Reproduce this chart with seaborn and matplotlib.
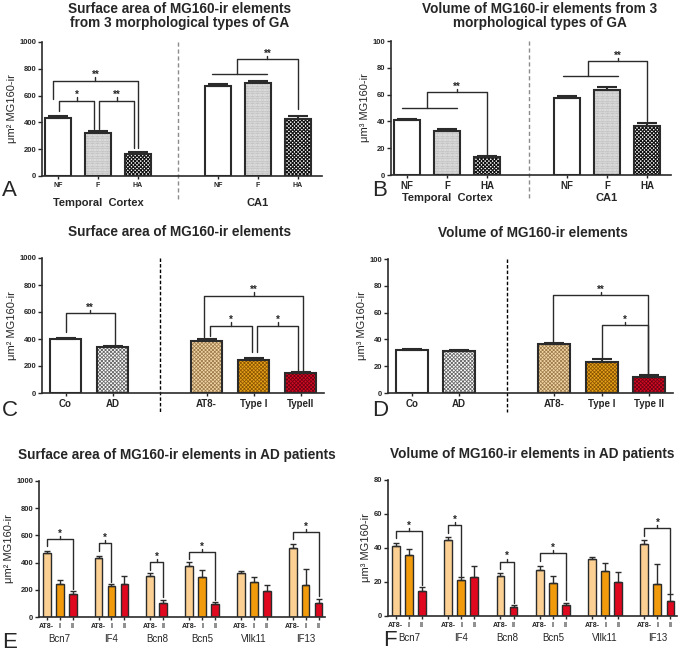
import numpy as np
import matplotlib
matplotlib.use("Agg")
import matplotlib.pyplot as plt
import seaborn as sns
from matplotlib.patches import Rectangle

# values
morph_types = ["NF", "F", "HA"]
area_tc = [435, 323, 164]
area_tc_err = [13, 15, 13]
area_ca1 = [672, 697, 425]
area_ca1_err = [15, 14, 23]
vol_tc = [41.0, 33.0, 13.2]
vol_tc_err = [1.0, 1.2, 1.0]
vol_ca1 = [57.6, 63.8, 36.5]
vol_ca1_err = [1.5, 1.5, 2.5]

cohorts = ["Co", "AD"]
tangles_c = ["AT8-", "Type I", "TypeII"]
tangles_d = ["AT8-", "Type I", "Type II"]
area_cohort = [397, 340]
area_cohort_err = [9, 8]
area_tangle = [388, 247, 146]
area_tangle_err = [9, 15, 10]
vol_cohort = [32.3, 31.6]
vol_cohort_err = [0.8, 0.8]
vol_tangle = [36.4, 23.3, 12.0]
vol_tangle_err = [0.9, 1.9, 1.2]

patients = ["Bcn7", "IF4", "Bcn8", "Bcn5", "Vllk11", "IF13"]
patient_types = [["AT8-", "I", "II"], ["AT8-", "I", "II"], ["AT8-", "II"],
                 ["AT8-", "I", "II"], ["AT8-", "I", "II"], ["AT8-", "I", "II"]]
area_patient = [[470, 245, 170], [437, 227, 245], [302, 105],
                [375, 295, 93], [320, 260, 190], [505, 237, 100]]
area_patient_err = [[14, 30, 20], [15, 17, 57], [25, 20],
                    [28, 48, 20], [15, 35, 42], [30, 118, 35]]
vol_patient = [[41.2, 35.9, 15.0], [45.0, 21.0, 23.0], [23.3, 5.5],
               [27.3, 19.6, 6.3], [33.3, 26.7, 20.2], [42.3, 18.6, 8.8]]
vol_patient_err = [[1.5, 3.3, 2.3], [1.6, 1.8, 6.2], [2.2, 1.0],
                   [2.2, 4.0, 1.5], [1.4, 4.2, 5.5], [2.6, 11.8, 3.9]]

sns.set_style("ticks")
plt.rcParams['font.family'] = ['Liberation Sans', 'DejaVu Sans']
plt.rcParams['hatch.linewidth'] = 0.8

W, H = 680, 653
fig = plt.figure(figsize=(W / 100, H / 100), dpi=100)
LC = '#2b2b2b'

# fill, hatch, hatch colour, hatch width per bar type
CHECK = 'x' * 9
STYLE = {
    "NF": ('white', '', 'white', 0.8),
    "F": ('white', '.' * 10, '#9a9a9a', 0.8),
    "HA": ('white', CHECK, '#111111', 0.8),
    "Co": ('white', '', 'white', 0.8),
    "AD": ('white', CHECK, '#6a6a6a', 0.6),
    "AT8-": ('#f0d6a8', CHECK, '#a07c4a', 0.55),
    "Type I": ('#e8a11a', CHECK, '#8a5600', 0.55),
    "Type II": ('#d20c22', CHECK, '#700014', 0.55),
    "pAT8-": ('#fbd092', '', '#fbd092', 0.8),
    "pI": ('#f09a0c', '', '#f09a0c', 0.8),
    "pII": ('#e0081e', '', '#e0081e', 0.8),
}


def px_axes(l, t, r, b):
    return fig.add_axes([l / W, 1 - b / H, (r - l) / W, (b - t) / H])


def draw_bars(ax, pos, vals, errs, kinds, width, lw, cap):
    sns.barplot(x=pos, y=vals, native_scale=True, width=width,
                errorbar=None, color='white', ax=ax)
    for p, k in zip(ax.patches, kinds):
        fc, hatch, hc, hw = STYLE[k]
        p.set_facecolor(fc)
        p.set_hatch(hatch)
        p.set_edgecolor(hc)
        p.set_linewidth(0)
        if hasattr(p, 'set_hatch_linewidth'):
            p.set_hatch_linewidth(hw)
    for p in list(ax.patches):
        ax.add_patch(Rectangle(p.get_xy(), p.get_width(), p.get_height(),
                               fill=False, ec=LC, lw=lw, zorder=3))
    ax.errorbar(pos, vals, yerr=[np.zeros(len(errs)), errs], fmt='none',
                ecolor=LC, elinewidth=lw, capsize=cap, capthick=lw, zorder=2)


def style_axis(ax, xlim, ymax, step, ylab, tick_fs):
    ax.set_xlim(*xlim)
    ax.set_ylim(0, ymax)
    ax.set_yticks(np.arange(0, ymax + 1, step))
    ax.tick_params(axis='y', labelsize=5.5, length=3, width=1, pad=1)
    ax.tick_params(axis='x', labelsize=tick_fs, length=2.5, width=1, pad=1.5)
    for s in ['left', 'bottom']:
        ax.spines[s].set_color(LC)
        ax.spines[s].set_linewidth(1.2)
    sns.despine(ax=ax)
    ax.set_ylabel(ylab, fontsize=8, labelpad=2)
    ax.set_xlabel('')


def bold_ticks(ax):
    for lab in ax.get_yticklabels() + ax.get_xticklabels():
        lab.set_fontweight('bold')


def stars(ax, x, y, tick, txt):
    ax.plot([x, x], [y, y + tick], color=LC, lw=1, zorder=4)
    ax.annotate(txt, (x, y + tick), xytext=(0, -2), textcoords='offset points',
                ha='center', va='bottom', fontsize=7, fontweight='bold')


def bracket(ax, x1, x2, y, y1, y2, txt, tick):
    ax.plot([x1, x1, x2, x2], [y1, y, y, y2], color=LC, lw=1, zorder=4)
    stars(ax, (x1 + x2) / 2, y, tick, txt)


def group_bracket(ax, a, b, ylow, xm, c, yhigh, yend, txt, tick):
    ax.plot([a, b], [ylow, ylow], color=LC, lw=1, zorder=4)
    ax.plot([xm, xm, c, c], [ylow, yhigh, yhigh, yend], color=LC, lw=1, zorder=4)
    stars(ax, (xm + c) / 2, yhigh, tick, txt)


def divider(ax, x, ybot, color, dashes):
    ax.plot([x, x], [1.0, ybot], transform=ax.get_xaxis_transform(),
            color=color, lw=1, dashes=dashes, clip_on=False, zorder=1)


# ---------------- A ----------------
axA = px_axes(42, 42, 322, 176)
posA = [0, 1, 2, 4, 5, 6]
draw_bars(axA, posA, area_tc + area_ca1, area_tc_err + area_ca1_err,
          morph_types * 2, 0.66, 1.5, 7)
style_axis(axA, (-0.4, 6.6), 1000, 200, "μm² MG160-ir", 5)
axA.set_xticks(posA, morph_types * 2)
bold_ticks(axA)
divider(axA, 3, -0.18, '#8c8c8c', (3, 2))
bracket(axA, -0.12, 1.99, 711, 572, 206, "**", 25)
bracket(axA, 0.02, 0.91, 562, 488, 348, "*", 25)
bracket(axA, 1.03, 1.91, 562, 348, 206, "**", 25)
group_bracket(axA, 3.84, 5.22, 760, 4.47, 6.0, 871, 500, "**", 25)
for x, t in [(1, "Temporal  Cortex"), (5, "CA1")]:
    axA.text(x, -0.2, t, transform=axA.get_xaxis_transform(), ha='center',
             va='center', fontsize=8, fontweight='bold')

# ---------------- B ----------------
axB = px_axes(391, 41, 671, 175)
draw_bars(axB, posA, vol_tc + vol_ca1, vol_tc_err + vol_ca1_err,
          morph_types * 2, 0.66, 1.5, 7)
style_axis(axB, (-0.4, 6.6), 100, 20, "μm³ MG160-ir", 7)
axB.set_xticks(posA, morph_types * 2)
bold_ticks(axB)
divider(axB, 3.05, -0.18, '#8c8c8c', (3, 2))
group_bracket(axB, -0.13, 1.26, 49.7, 0.51, 2.0, 61.6, 14.9, "**", 2.5)
group_bracket(axB, 3.89, 5.28, 73.8, 4.53, 6.0, 85, 40.2, "**", 2.5)
for x, t in [(1, "Temporal  Cortex"), (5, "CA1")]:
    axB.text(x, -0.175, t, transform=axB.get_xaxis_transform(), ha='center',
             va='center', fontsize=8, fontweight='bold')

# ---------------- C ----------------
posC = [0, 1, 3, 4, 5]
kindsC = cohorts + tangles_d
axC = px_axes(42, 258, 324, 393)
draw_bars(axC, posC, area_cohort + area_tangle, area_cohort_err + area_tangle_err,
          kindsC, 0.67, 1.5, 7)
style_axis(axC, (-0.5, 5.5), 1000, 200, "μm² MG160-ir", 7)
axC.set_xticks(posC, cohorts + tangles_c)
bold_ticks(axC)
divider(axC, 2.0, -0.14, 'black', (2.5, 1.5))
bracket(axC, 0.0, 1.05, 590, 449, 351, "**", 25)
bracket(axC, 2.95, 5.05, 721, 417, 165, "**", 25)
bracket(axC, 3.07, 3.96, 499, 425, 304, "*", 25)
bracket(axC, 4.08, 4.95, 499, 304, 165, "*", 25)

# ---------------- D ----------------
axD = px_axes(388, 259, 673, 393)
draw_bars(axD, posC, vol_cohort + vol_tangle, vol_cohort_err + vol_tangle_err,
          kindsC, 0.67, 1.5, 7)
style_axis(axD, (-0.5, 5.5), 100, 20, "μm³ MG160-ir", 7)
axD.set_xticks(posC, cohorts + tangles_d)
bold_ticks(axD)
divider(axD, 2.0, -0.14, 'black', (2.5, 1.5))
bracket(axD, 2.98, 4.98, 73, 38.2, 12.7, "**", 2.5)
bracket(axD, 4.0, 4.98, 50.6, 25.7, 12.7, "*", 2.5)

# ---------------- E / F ----------------
posE, labE, kindE, centers = [], [], [], []
slot = 0
for types in patient_types:
    grp = list(range(slot, slot + len(types)))
    posE += grp
    labE += types
    kindE += ["p" + t for t in types]
    centers.append(np.mean(grp))
    slot += len(types) + 1

valsE = [v for g in area_patient for v in g]
errsE = [v for g in area_patient_err for v in g]
valsF = [v for g in vol_patient for v in g]
errsF = [v for g in vol_patient_err for v in g]

axE = px_axes(39, 481, 325, 617)
draw_bars(axE, posE, valsE, errsE, kindE, 0.6, 1.0, 2.2)
style_axis(axE, (-0.6, 21.5), 1000, 200, "μm² MG160-ir", 5)
axE.set_xticks(posE, labE)

axF = px_axes(388, 480, 677, 616)
draw_bars(axF, posE, valsF, errsF, kindE, 0.6, 1.0, 2.2)
style_axis(axF, (-0.6, 21.5), 80, 20, "μm³ MG160-ir", 5)
axF.set_xticks(posE, labE)

for ax in (axE, axF):
    bold_ticks(ax)
    for c, name in zip(centers, patients):
        ax.text(c, -0.165, name, transform=ax.get_xaxis_transform(),
                ha='center', va='center', fontsize=7)

for x1, x2, y, yl, yr in [(0, 2, 573, 524, 207), (4, 5, 544, 488, 256),
                          (8, 9, 402, 346, 146), (11, 13, 480, 427, 122),
                          (19, 21, 627, 573, 151)]:
    bracket(axE, x1, x2, y, yl, yr, "*", 22)
for x1, x2, y, yl, yr in [(0, 2, 50, 45.7, 18.2), (4, 5, 53.5, 49, 23.5),
                          (8, 9, 32, 27.5, 7.5), (11, 13, 36.9, 32.5, 9.4),
                          (19, 21, 51.6, 47.3, 13.7)]:
    bracket(axF, x1, x2, y, yl, yr, "*", 1.8)

# ---------------- titles and letters ----------------
titles = [
    (180, 9, "Surface area of MG160-ir elements"),
    (180, 23, "from 3 morphological types of GA"),
    (540, 9, "Volume of MG160-ir elements from 3"),
    (540, 23, "morphological types of GA"),
    (180, 232, "Surface area of MG160-ir elements"),
    (533, 233, "Volume of MG160-ir elements"),
    (177, 455, "Surface area of MG160-ir elements in AD patients"),
    (532, 454, "Volume of MG160-ir elements in AD patients"),
]
for x, y, t in titles:
    fig.text(x / W, 1 - y / H, t, ha='center', va='center', fontsize=9.8,
             fontweight='bold')

for x, y, t in [(2, 190, "A"), (372, 190, "B"), (2, 411, "C"),
                (372, 411, "D"), (2, 643, "E"), (383, 640, "F")]:
    fig.text(x / W, 1 - y / H, t, ha='left', va='center', fontsize=16)

fig.savefig("out.png", dpi=100)
